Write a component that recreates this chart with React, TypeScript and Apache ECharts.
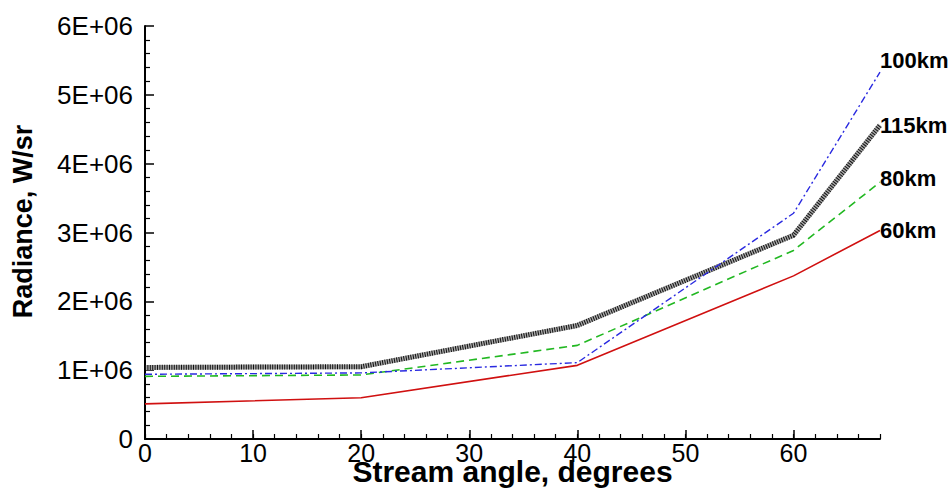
import React, { useEffect, useRef } from "react";
import * as echarts from "echarts";

const angles = [0, 20, 40, 60, 68];
const km60 = [0.51e6, 0.6e6, 1.07e6, 2.37e6, 3.03e6];
const km80 = [0.91e6, 0.93e6, 1.36e6, 2.74e6, 3.73e6];
const km100 = [0.94e6, 0.96e6, 1.11e6, 3.28e6, 5.33e6];
const km115 = [1.04e6, 1.05e6, 1.65e6, 2.96e6, 4.56e6];
const xTicks = [0, 10, 20, 30, 40, 50, 60];

const FONT = "'Liberation Sans', Arial, sans-serif";

const pairs = (ys: number[]) => angles.map((a, i) => [a, ys[i]]);

export default function App() {
  const ref = useRef<HTMLDivElement>(null);
  useEffect(() => {
    if (!ref.current) return;
    const chart = echarts.init(ref.current, null, { renderer: "svg" });
    const endLabel = (text: string, dy: number) => ({
      show: true,
      formatter: text,
      distance: 0,
      offset: [0, dy],
      fontFamily: FONT,
      fontWeight: "bold",
      fontSize: 22,
      color: "#000",
    });
    chart.setOption({
      animation: false,
      backgroundColor: "#fff",
      grid: {
        left: 145,
        right: 69,
        top: 26,
        bottom: 51,
        containLabel: false,
        outerBoundsMode: "none",
      },
      xAxis: [
        {
          type: "value",
          min: 0,
          max: 68,
          interval: 10,
          name: "Stream angle, degrees",
          nameLocation: "middle",
          nameGap: 19,
          nameMoveOverlap: false,
          nameTextStyle: {
            fontFamily: FONT,
            fontWeight: "bold",
            fontSize: 30,
            lineHeight: 26,
            color: "#000",
          },
          axisLine: { show: true, onZero: false, lineStyle: { color: "#000", width: 2 } },
          axisTick: { show: true, inside: true, length: 9, lineStyle: { color: "#000", width: 1.5 } },
          axisLabel: {
            margin: 4,
            fontFamily: FONT,
            fontSize: 25,
            lineHeight: 20,
            color: "#000",
            showMaxLabel: false,
            formatter: (v: number) => (xTicks.includes(v) ? String(v) : ""),
          },
          splitLine: { show: false },
        },
        {
          type: "value",
          min: 0,
          max: 68,
          interval: 2,
          position: "bottom",
          axisLine: { show: false },
          axisTick: { show: true, inside: true, length: 5, lineStyle: { color: "#000", width: 1.2 } },
          axisLabel: { show: false },
          splitLine: { show: false },
        },
      ],
      yAxis: {
        type: "value",
        min: 0,
        max: 6e6,
        interval: 1e6,
        name: "Radiance, W/sr",
        nameLocation: "middle",
        nameGap: 109,
        nameMoveOverlap: false,
        nameTextStyle: {
          fontFamily: FONT,
          fontWeight: "bold",
          fontSize: 27,
          color: "#000",
          padding: [0, 0, 0, 22],
        },
        axisLine: { show: true, onZero: false, lineStyle: { color: "#000", width: 2 } },
        axisTick: { show: true, inside: true, length: 9, lineStyle: { color: "#000", width: 1.5 } },
        minorTick: { show: true, splitNumber: 5, length: 5, lineStyle: { color: "#000", width: 1.2 } },
        axisLabel: {
          margin: 12,
          fontFamily: FONT,
          fontSize: 26,
          color: "#000",
          formatter: (v: number) => (v === 0 ? "0" : `${Math.round(v / 1e6)}E+06`),
        },
        splitLine: { show: false },
      },
      series: [
        {
          type: "line",
          name: "60km",
          data: pairs(km60),
          showSymbol: false,
          lineStyle: { color: "#d01010", width: 1.6 },
          endLabel: endLabel("60km", 0),
        },
        {
          type: "line",
          name: "80km",
          data: pairs(km80),
          showSymbol: false,
          lineStyle: { color: "#22b822", width: 1.6, type: [8, 5] },
          endLabel: endLabel("80km", -4),
        },
        {
          type: "line",
          name: "115km-base",
          data: pairs(km115),
          showSymbol: false,
          lineStyle: { color: "#a8a8a8", width: 5 },
        },
        {
          type: "line",
          name: "115km",
          data: pairs(km115),
          showSymbol: false,
          lineStyle: { color: "#111", width: 5, type: [1, 1.4] },
          endLabel: endLabel("115km", 0),
        },
        {
          type: "line",
          name: "100km",
          data: pairs(km100),
          showSymbol: false,
          lineStyle: { color: "#2a2ae0", width: 1.4, type: [7, 3, 2, 3] },
          endLabel: endLabel("100km", -12),
        },
      ],
    });
    return () => chart.dispose();
  }, []);
  return (
    <div
      ref={ref}
      style={{ position: "absolute", left: 0, top: 0, width: 949, height: 490 }}
    />
  );
}
